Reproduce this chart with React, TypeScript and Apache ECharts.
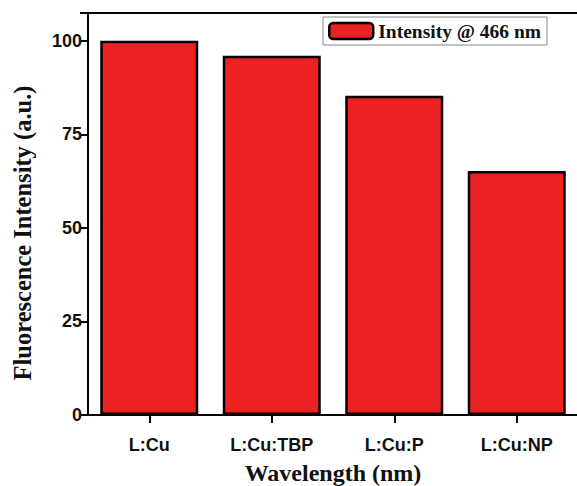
import React, { useEffect, useRef } from "react";
import * as echarts from "echarts";

const categories = ["L:Cu", "L:Cu:TBP", "L:Cu:P", "L:Cu:NP"];
const intensity = [100, 96, 85.3, 65.2];
const yTicks = [0, 25, 50, 75, 100];
const seriesName = "Intensity @ 466 nm";
const yTitle = "Fluorescence Intensity (a.u.)";
const xTitle = "Wavelength (nm)";

export default function App() {
  const ref = useRef<HTMLDivElement>(null);
  useEffect(() => {
    if (!ref.current) return;
    const chart = echarts.init(ref.current, null, { renderer: "svg" });
    chart.setOption({
      animation: false,
      backgroundColor: "#fff",
      grid: { left: 88, right: -1, top: 13, bottom: 71, containLabel: false, outerBoundsMode: "none" },
      legend: {
        show: true,
        left: 323,
        top: 17,
        orient: "horizontal",
        itemWidth: 44,
        itemHeight: 16,
        itemGap: 6,
        padding: [4, 6, 4, 5],
        borderColor: "#888",
        borderWidth: 1,
        backgroundColor: "#fff",
        textStyle: {
          fontFamily: "Liberation Serif",
          fontWeight: "bold",
          fontSize: 19.5,
          color: "#111",
        },
        data: [{ name: seriesName, itemStyle: { borderWidth: 2.5, borderColor: "#000" } }],
      },
      graphic: [
        {
          type: "text",
          x: 22,
          y: 233,
          rotation: Math.PI / 2,
          style: {
            text: yTitle,
            fontFamily: "Liberation Serif",
            fontWeight: "bold",
            fontSize: 24.5,
            fill: "#111",
            textAlign: "center",
            textVerticalAlign: "middle",
          },
        },
      ],
      xAxis: [
        {
          type: "category",
          data: categories,
          position: "bottom",
          name: xTitle,
          nameLocation: "middle",
          nameGap: 46,
          nameTextStyle: {
            fontFamily: "Liberation Serif",
            fontWeight: "bold",
            fontSize: 24,
            color: "#111",
          },
          axisLine: { show: true, lineStyle: { color: "#000", width: 2 } },
          axisTick: { show: true, alignWithLabel: true, length: 8, lineStyle: { color: "#000", width: 2 } },
          axisLabel: {
            fontFamily: "Liberation Sans",
            fontWeight: "bold",
            fontSize: 18,
            color: "#111",
            margin: 21,
          },
          splitLine: { show: false },
        },
        {
          type: "category",
          data: categories,
          position: "top",
          axisLine: { show: true, lineStyle: { color: "#000", width: 2 } },
          axisTick: { show: false },
          axisLabel: { show: false },
        },
      ],
      yAxis: {
        type: "value",
        min: 0,
        max: 107.4,
        interval: 25,
        axisLine: { show: true, lineStyle: { color: "#000", width: 2 } },
        axisTick: { show: true, length: 8, lineStyle: { color: "#000", width: 2 } },
        axisLabel: {
          fontFamily: "Liberation Sans",
          fontWeight: "bold",
          fontSize: 18,
          color: "#111",
          margin: 6,
          formatter: (v: number) => (yTicks.includes(v) ? String(v) : ""),
        },
        splitLine: { show: false },
      },
      series: [
        {
          name: seriesName,
          type: "bar",
          data: intensity,
          barWidth: "80%",
          itemStyle: { color: "#ED2024", borderColor: "#000", borderWidth: 2.5 },
        },
      ],
    });
    return () => chart.dispose();
  }, []);
  return (
    <div
      ref={ref}
      style={{ position: "fixed", left: 0, top: 0, width: 577, height: 486 }}
    />
  );
}
